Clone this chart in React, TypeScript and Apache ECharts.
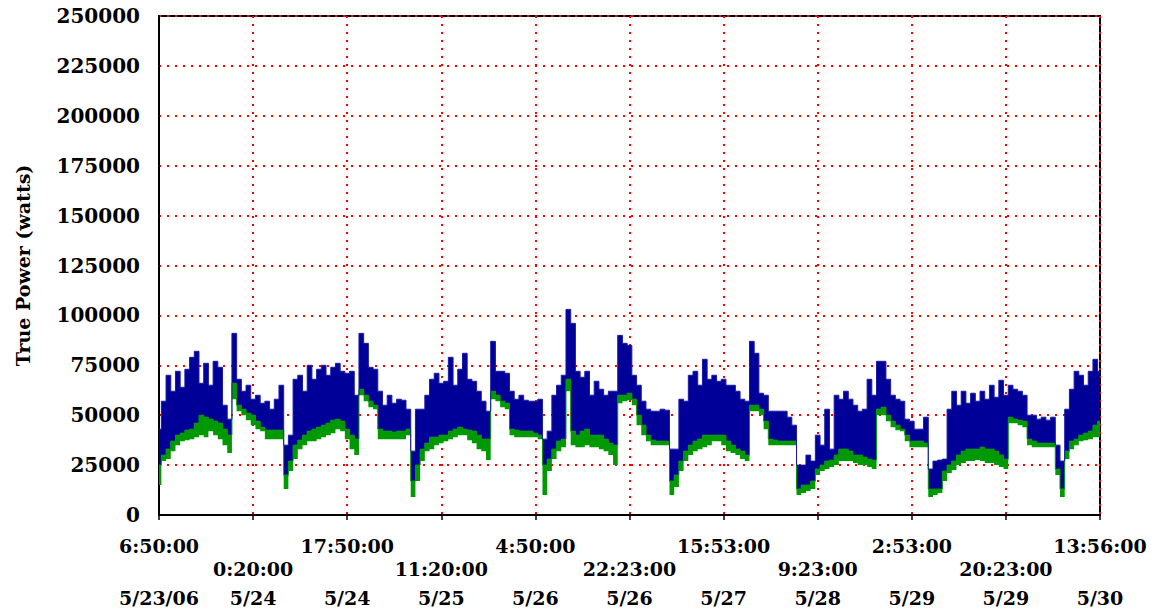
import React, { useEffect, useRef } from "react";
import * as echarts from "echarts";

const tickTimes = ["6:50:00", "0:20:00", "17:50:00", "11:20:00", "4:50:00", "22:23:00", "15:53:00", "9:23:00", "2:53:00", "20:23:00", "13:56:00"];
const tickDates = ["5/23/06", "5/24", "5/24", "5/25", "5/26", "5/26", "5/27", "5/28", "5/29", "5/29", "5/30"];

// upper envelope (blue top), watts
const hiPower = [
  43000, 57000, 70000, 62000, 72000, 64000, 73000, 79000, 82000, 66000,
  76000, 65000, 77000, 74000, 55000, 48000, 91000, 68000, 62000, 65000,
  58000, 60000, 56000, 57000, 53000, 58000, 65000, 35000, 40000, 68000,
  70000, 62000, 75000, 68000, 73000, 75000, 70000, 74000, 76000, 72000,
  71000, 72000, 60000, 91000, 86000, 74000, 73000, 62000, 55000, 60000,
  56000, 58000, 57500, 53000, 32000, 53000, 53000, 60000, 68000, 71000,
  66000, 67000, 79000, 65000, 73000, 81000, 68000, 67000, 62000, 57000,
  52000, 87000, 72000, 72000, 71000, 62000, 58000, 60000, 57500, 57000,
  57000, 58000, 38000, 42000, 60000, 65000, 70000, 103000, 96000, 72000,
  69000, 72000, 60000, 67000, 63000, 60000, 62000, 62000, 90000, 86000,
  85000, 70000, 65000, 57000, 53000, 52000, 52000, 53000, 52500, 33000,
  33000, 58000, 57000, 70000, 72000, 65000, 78000, 68000, 70000, 67000,
  68000, 65000, 65000, 62000, 58000, 57000, 87000, 81000, 61000, 60000,
  52000, 52000, 52000, 52000, 49000, 45000, 25000, 25000, 30000, 27000,
  40000, 35000, 53000, 33000, 60000, 58000, 62000, 58000, 55000, 52000,
  53000, 68000, 60000, 77000, 77000, 68000, 60000, 58000, 57000, 48000,
  47000, 43000, 43000, 49000, 23000, 27000, 27500, 28000, 53000, 62000,
  55000, 62000, 56000, 61000, 57000, 62000, 58000, 65000, 59000, 67500,
  60000, 65000, 63000, 62000, 60000, 50000, 50000, 48000, 49000, 47500,
  49000, 35000, 27000, 53000, 63000, 72000, 70000, 65000, 72000, 78000,
  72000,
];

// top of the green band, watts
const midPower = [
  25000, 30000, 33000, 37000, 40000, 41000, 42500, 43000, 46000, 50000,
  49000, 48000, 47000, 46000, 43000, 40000, 66000, 55000, 53000, 51000,
  50000, 47000, 44000, 42500, 42500, 42500, 42500, 20000, 27000, 35000,
  37500, 40000, 42000, 43000, 44000, 45000, 46000, 47500, 48000, 47000,
  43000, 40000, 38000, 63000, 60000, 57000, 55000, 43000, 42000, 42000,
  41500, 42000, 42000, 43000, 17000, 25000, 33000, 36000, 39000, 39000,
  40000, 40000, 42000, 43000, 44000, 43000, 42500, 42000, 40000, 38000,
  38000, 62000, 60000, 57000, 56000, 43000, 42500, 42000, 42000, 42000,
  41000, 40000, 25000, 28000, 33000, 37000, 38000, 68000, 42000, 40000,
  42000, 43000, 40000, 40000, 40000, 38000, 36000, 35000, 60000, 60000,
  61000, 58000, 50000, 45000, 40000, 37500, 37000, 37000, 37000, 17000,
  20000, 27000, 32000, 35000, 37000, 38000, 40000, 40000, 40000, 40000,
  40000, 37000, 35000, 33000, 32000, 30000, 55000, 55000, 53000, 47000,
  38000, 37500, 37000, 37000, 37000, 37000, 13000, 15000, 15000, 17000,
  23000, 25000, 27000, 27500, 30000, 33000, 33000, 32000, 30000, 30000,
  29000, 28000, 27500, 53000, 54000, 50000, 47000, 45000, 43000, 40000,
  37000, 37000, 37000, 36000, 13000, 13000, 13000, 22000, 25000, 27000,
  30000, 32000, 33000, 33000, 33000, 34000, 33000, 33000, 32000, 30000,
  28000, 49000, 48000, 47500, 47000, 38000, 37000, 36000, 36000, 36000,
  36000, 23000, 13000, 32000, 37000, 38000, 40000, 41000, 42000, 45000,
  47000,
];

// lower envelope (bottom of the green band), watts
const loPower = [
  15000, 27000, 28000, 32000, 35000, 37000, 37500, 38000, 39000, 40000,
  39000, 42000, 40000, 38000, 35000, 31000, 58000, 52000, 50000, 47500,
  45000, 43000, 42000, 38000, 38000, 38000, 38000, 13000, 22000, 28000,
  33000, 35000, 37000, 37000, 38000, 39000, 40000, 41000, 43000, 42000,
  38000, 33000, 30000, 60000, 57000, 54000, 53000, 38000, 38000, 38000,
  38000, 38000, 38000, 40000, 9000, 17000, 27000, 32000, 33000, 35000,
  36000, 37000, 38000, 39000, 40000, 40000, 37500, 36000, 33000, 32000,
  27500, 58000, 57000, 54000, 53000, 40000, 39000, 39000, 39000, 39000,
  39000, 38000, 10000, 22000, 28000, 32000, 34000, 62000, 35000, 34000,
  34000, 35000, 34000, 34000, 33000, 32000, 30000, 25000, 56000, 57000,
  57500, 55000, 45000, 40000, 37000, 35000, 35000, 35000, 35000, 10000,
  14000, 22000, 27000, 30000, 32000, 33000, 34000, 35000, 37000, 37000,
  35000, 32000, 31000, 30000, 28000, 27000, 52000, 52000, 50000, 43000,
  35000, 35000, 35000, 35000, 35000, 35000, 10000, 11000, 12000, 13000,
  20000, 22000, 23000, 24000, 25000, 27000, 27000, 27000, 26000, 25000,
  25000, 24000, 23000, 50000, 50000, 47000, 44000, 42500, 42000, 37000,
  34000, 34000, 34000, 34000, 9000, 10000, 11000, 17000, 21000, 22500,
  25000, 26000, 27000, 27000, 27500, 27000, 26000, 26000, 25000, 24000,
  23000, 46000, 46000, 45000, 44000, 35000, 34000, 34000, 34000, 34000,
  34000, 20000, 9000, 28000, 33000, 35000, 37000, 37500, 38000, 39000,
  39000,
];

const TICK_EVERY = 20;

export default function App() {
  const ref = useRef<HTMLDivElement>(null);
  useEffect(() => {
    if (!ref.current) return;
    const chart = echarts.init(ref.current, null, { renderer: "svg" });
    const cats = hiPower.map((_, i) => String(i));
    const greenBand = midPower.map((m, i) => m - loPower[i]);
    const blueBand = hiPower.map((h, i) => h - midPower[i]);
    const font = "DejaVu Serif";
    const isTick = (index: number) => index % TICK_EVERY === 0;
    chart.setOption({
      animation: false,
      backgroundColor: "#ffffff",
      grid: {
        left: 159,
        right: 63,
        top: 16,
        bottom: 99,
        show: true,
        borderColor: "#000000",
        borderWidth: 2,
        backgroundColor: "transparent",
      },
      xAxis: {
        type: "category",
        data: cats,
        boundaryGap: false,
        axisLine: { show: true, lineStyle: { color: "#000000", width: 2 } },
        axisTick: { show: true, interval: isTick, length: 5, inside: false, lineStyle: { color: "#000000", width: 1.5 } },
        splitLine: {
          show: true,
          interval: isTick,
          lineStyle: { color: "#ff0000", width: 2, type: [2, 6] },
        },
        axisLabel: {
          interval: isTick,
          showMinLabel: true,
          showMaxLabel: true,
          margin: 16,
          formatter: (value: string) => {
            const k = Math.round(Number(value) / TICK_EVERY);
            const t = tickTimes[k];
            const d = tickDates[k];
            if (k % 2 === 0) return `{t|${t}}\n{s| }\n{d|${d}}`;
            return `{s| }\n{t|${t}}\n{d|${d}}`;
          },
          rich: {
            t: { fontFamily: font, fontWeight: "bold", fontSize: 19, color: "#000", lineHeight: 29 },
            s: { fontFamily: font, fontSize: 10, lineHeight: 23 },
            d: { fontFamily: font, fontWeight: "bold", fontSize: 19, color: "#000", lineHeight: 29 },
          },
        },
      },
      yAxis: {
        type: "value",
        min: 0,
        max: 250000,
        interval: 25000,
        name: "True Power (watts)",
        nameLocation: "middle",
        nameGap: 127,
        nameRotate: 90,
        nameTextStyle: { fontFamily: font, fontWeight: "bold", fontSize: 19, color: "#000" },
        axisLine: { show: true, lineStyle: { color: "#000000", width: 2 } },
        axisTick: { show: false },
        axisLabel: {
          margin: 19,
          fontFamily: font,
          fontWeight: "bold",
          fontSize: 20,
          color: "#000",
          formatter: (v: number) => String(v),
        },
        splitLine: { show: true, lineStyle: { color: "#ff0000", width: 2, type: [2, 6] } },
      },
      series: [
        {
          name: "base",
          type: "line",
          stack: "p",
          step: "middle",
          data: loPower,
          symbol: "none",
          lineStyle: { opacity: 0, width: 0 },
          silent: true,
        },
        {
          name: "green",
          type: "line",
          stack: "p",
          step: "middle",
          data: greenBand,
          symbol: "none",
          lineStyle: { color: "#009900", width: 1 },
          areaStyle: { color: "#009900", opacity: 1 },
        },
        {
          name: "blue",
          type: "line",
          stack: "p",
          step: "middle",
          data: blueBand,
          symbol: "none",
          lineStyle: { color: "#1a1aa8", width: 1 },
          areaStyle: { color: "#000099", opacity: 1 },
        },
      ],
    });
    return () => chart.dispose();
  }, []);
  return (
    <div
      ref={ref}
      style={{ position: "absolute", left: 0, top: 0, width: 1163, height: 614, background: "#fff" }}
    />
  );
}
